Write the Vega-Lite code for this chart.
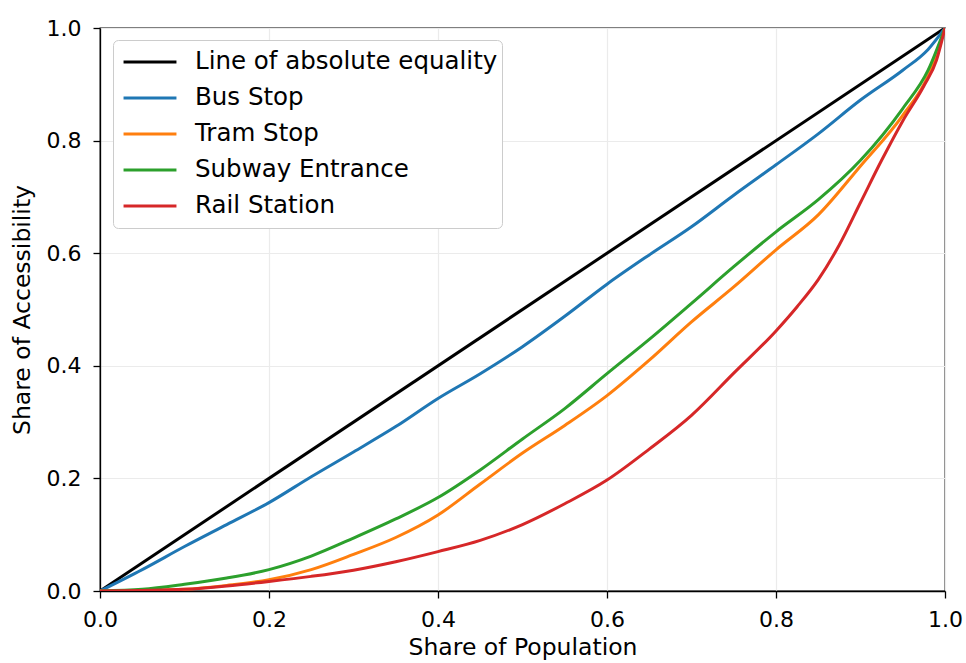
{
  "$schema": "https://vega.github.io/schema/vega-lite/v6.json",
  "width": 845,
  "height": 563,
  "autosize": {"type": "none"},
  "padding": {"left": 100, "top": 28, "right": 21, "bottom": 72},
  "background": "white",
  "config": {
    "font": "DejaVu Sans",
    "view": {"stroke": "black", "strokeWidth": 1.3},
    "axis": {
      "domainColor": "black", "domainWidth": 1.3,
      "tickColor": "black", "tickWidth": 1.3, "tickSize": 7,
      "labelFont": "DejaVu Sans", "labelFontSize": 22, "labelColor": "black",
      "titleFont": "DejaVu Sans", "titleFontSize": 23.5, "titleFontWeight": "normal", "titleColor": "black",
      "gridColor": "#ebebeb", "gridWidth": 1.2
    }
  },
  "data": {
    "values": [
      {"s": "Line of absolute equality", "x": 0, "y": 0},
      {"s": "Line of absolute equality", "x": 1, "y": 1},
      {"s": "Bus Stop", "x": 0, "y": 0},
      {"s": "Bus Stop", "x": 0.05, "y": 0.038},
      {"s": "Bus Stop", "x": 0.1, "y": 0.079},
      {"s": "Bus Stop", "x": 0.15, "y": 0.118},
      {"s": "Bus Stop", "x": 0.2, "y": 0.157},
      {"s": "Bus Stop", "x": 0.25, "y": 0.203},
      {"s": "Bus Stop", "x": 0.3, "y": 0.247},
      {"s": "Bus Stop", "x": 0.35, "y": 0.292},
      {"s": "Bus Stop", "x": 0.4, "y": 0.342},
      {"s": "Bus Stop", "x": 0.45, "y": 0.386},
      {"s": "Bus Stop", "x": 0.5, "y": 0.434},
      {"s": "Bus Stop", "x": 0.55, "y": 0.488},
      {"s": "Bus Stop", "x": 0.6, "y": 0.545},
      {"s": "Bus Stop", "x": 0.65, "y": 0.597},
      {"s": "Bus Stop", "x": 0.7, "y": 0.647},
      {"s": "Bus Stop", "x": 0.75, "y": 0.703},
      {"s": "Bus Stop", "x": 0.8, "y": 0.757},
      {"s": "Bus Stop", "x": 0.85, "y": 0.812},
      {"s": "Bus Stop", "x": 0.9, "y": 0.872},
      {"s": "Bus Stop", "x": 0.95, "y": 0.925},
      {"s": "Bus Stop", "x": 0.98, "y": 0.962},
      {"s": "Bus Stop", "x": 1, "y": 1},
      {"s": "Tram Stop", "x": 0, "y": 0},
      {"s": "Tram Stop", "x": 0.05, "y": 0.001},
      {"s": "Tram Stop", "x": 0.1, "y": 0.003},
      {"s": "Tram Stop", "x": 0.15, "y": 0.01},
      {"s": "Tram Stop", "x": 0.2, "y": 0.02},
      {"s": "Tram Stop", "x": 0.25, "y": 0.038},
      {"s": "Tram Stop", "x": 0.3, "y": 0.065},
      {"s": "Tram Stop", "x": 0.35, "y": 0.095},
      {"s": "Tram Stop", "x": 0.4, "y": 0.135},
      {"s": "Tram Stop", "x": 0.45, "y": 0.19},
      {"s": "Tram Stop", "x": 0.5, "y": 0.245},
      {"s": "Tram Stop", "x": 0.55, "y": 0.294},
      {"s": "Tram Stop", "x": 0.6, "y": 0.347},
      {"s": "Tram Stop", "x": 0.65, "y": 0.41},
      {"s": "Tram Stop", "x": 0.7, "y": 0.478},
      {"s": "Tram Stop", "x": 0.75, "y": 0.54},
      {"s": "Tram Stop", "x": 0.8, "y": 0.606},
      {"s": "Tram Stop", "x": 0.85, "y": 0.668},
      {"s": "Tram Stop", "x": 0.9, "y": 0.755},
      {"s": "Tram Stop", "x": 0.95, "y": 0.845},
      {"s": "Tram Stop", "x": 0.98, "y": 0.915},
      {"s": "Tram Stop", "x": 1, "y": 1},
      {"s": "Subway Entrance", "x": 0, "y": 0},
      {"s": "Subway Entrance", "x": 0.05, "y": 0.003},
      {"s": "Subway Entrance", "x": 0.1, "y": 0.012},
      {"s": "Subway Entrance", "x": 0.15, "y": 0.023},
      {"s": "Subway Entrance", "x": 0.2, "y": 0.038},
      {"s": "Subway Entrance", "x": 0.25, "y": 0.062},
      {"s": "Subway Entrance", "x": 0.3, "y": 0.094},
      {"s": "Subway Entrance", "x": 0.35, "y": 0.128},
      {"s": "Subway Entrance", "x": 0.4, "y": 0.166},
      {"s": "Subway Entrance", "x": 0.45, "y": 0.215},
      {"s": "Subway Entrance", "x": 0.5, "y": 0.27},
      {"s": "Subway Entrance", "x": 0.55, "y": 0.324},
      {"s": "Subway Entrance", "x": 0.6, "y": 0.386},
      {"s": "Subway Entrance", "x": 0.65, "y": 0.447},
      {"s": "Subway Entrance", "x": 0.7, "y": 0.511},
      {"s": "Subway Entrance", "x": 0.75, "y": 0.576},
      {"s": "Subway Entrance", "x": 0.8, "y": 0.638},
      {"s": "Subway Entrance", "x": 0.85, "y": 0.695},
      {"s": "Subway Entrance", "x": 0.9, "y": 0.765},
      {"s": "Subway Entrance", "x": 0.95, "y": 0.857},
      {"s": "Subway Entrance", "x": 0.98, "y": 0.925},
      {"s": "Subway Entrance", "x": 1, "y": 1},
      {"s": "Rail Station", "x": 0, "y": 0},
      {"s": "Rail Station", "x": 0.05, "y": 0.001},
      {"s": "Rail Station", "x": 0.1, "y": 0.003},
      {"s": "Rail Station", "x": 0.15, "y": 0.009},
      {"s": "Rail Station", "x": 0.2, "y": 0.017},
      {"s": "Rail Station", "x": 0.25, "y": 0.026},
      {"s": "Rail Station", "x": 0.3, "y": 0.037},
      {"s": "Rail Station", "x": 0.35, "y": 0.052},
      {"s": "Rail Station", "x": 0.4, "y": 0.07},
      {"s": "Rail Station", "x": 0.45, "y": 0.09},
      {"s": "Rail Station", "x": 0.5, "y": 0.118},
      {"s": "Rail Station", "x": 0.55, "y": 0.155},
      {"s": "Rail Station", "x": 0.6, "y": 0.197},
      {"s": "Rail Station", "x": 0.65, "y": 0.252},
      {"s": "Rail Station", "x": 0.7, "y": 0.312},
      {"s": "Rail Station", "x": 0.75, "y": 0.387},
      {"s": "Rail Station", "x": 0.8, "y": 0.462},
      {"s": "Rail Station", "x": 0.825, "y": 0.505},
      {"s": "Rail Station", "x": 0.85, "y": 0.553},
      {"s": "Rail Station", "x": 0.875, "y": 0.615},
      {"s": "Rail Station", "x": 0.9, "y": 0.69},
      {"s": "Rail Station", "x": 0.925, "y": 0.765},
      {"s": "Rail Station", "x": 0.95, "y": 0.835},
      {"s": "Rail Station", "x": 0.975, "y": 0.897},
      {"s": "Rail Station", "x": 0.99, "y": 0.943},
      {"s": "Rail Station", "x": 1, "y": 1}
    ]
  },
  "mark": {"type": "line", "strokeWidth": 3, "clip": true, "interpolate": "monotone"},
  "encoding": {
    "x": {
      "field": "x", "type": "quantitative",
      "scale": {"domain": [0, 1], "nice": false, "zero": false},
      "axis": {"title": "Share of Population", "values": [0, 0.2, 0.4, 0.6, 0.8, 1], "format": ".1f", "labelPadding": 11, "titlePadding": 5, "labelFlush": false}
    },
    "y": {
      "field": "y", "type": "quantitative",
      "scale": {"domain": [0, 1], "nice": false, "zero": false},
      "axis": {"title": "Share of Accessibility", "values": [0, 0.2, 0.4, 0.6, 0.8, 1], "format": ".1f", "labelPadding": 12, "titlePadding": 12, "labelFlush": false}
    },
    "color": {
      "field": "s", "type": "nominal",
      "sort": ["Line of absolute equality", "Bus Stop", "Tram Stop", "Subway Entrance", "Rail Station"],
      "scale": {
        "domain": ["Line of absolute equality", "Bus Stop", "Tram Stop", "Subway Entrance", "Rail Station"],
        "range": ["#000000", "#1f77b4", "#ff7f0e", "#2ca02c", "#d62728"]
      },
      "legend": {
        "title": null,
        "orient": "none",
        "legendX": 13,
        "legendY": 12,
        "symbolType": "stroke",
        "symbolSize": 2800,
        "symbolStrokeWidth": 3,
        "symbolOffset": 5,
        "clipHeight": 36,
        "labelFontSize": 24.5,
        "labelFont": "DejaVu Sans",
        "labelColor": "black",
        "labelOffset": 17,
        "labelLimit": 500,
        "rowPadding": 0,
        "padding": 4,
        "strokeColor": "#cccccc",
        "fillColor": "white",
        "cornerRadius": 5
      }
    },
    "order": {"field": "x", "type": "quantitative"}
  }
}
